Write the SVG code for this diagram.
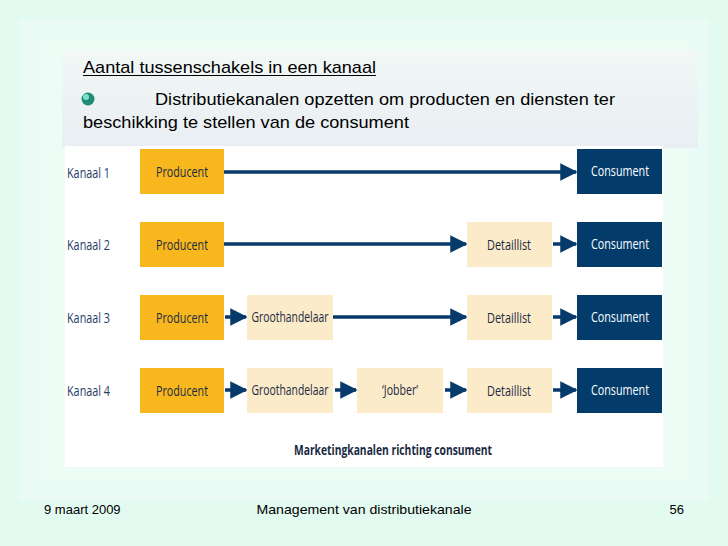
<svg xmlns="http://www.w3.org/2000/svg" width="728" height="546" viewBox="0 0 728 546">
<defs>
<style>
.lbl{font-family:"Open Sans","Liberation Sans",sans-serif;font-size:15px;fill:#1a2a44;text-anchor:middle;}
.k{font-family:"Open Sans","Liberation Sans",sans-serif;font-size:15px;fill:#1f3b66;}
.p{fill:#f8b81d;}
.l{fill:#fcebc9;}
.c{fill:#033b6b;}
.cl{font-family:"Open Sans","Liberation Sans",sans-serif;font-size:15px;fill:#fff;text-anchor:middle;}
.ln{stroke:#063a6a;stroke-width:3.5;fill:none;}
.t{font-family:"Liberation Sans",Arial,sans-serif;font-size:17px;fill:#000;}
.f{font-family:"Liberation Sans",Arial,sans-serif;font-size:13px;fill:#000;}
</style>
<marker id="a" viewBox="0 0 10 10" refX="9" refY="5" markerWidth="5" markerHeight="6" markerUnits="strokeWidth" orient="auto"><path d="M0,0L10,5L0,10z" fill="#063a6a"/></marker>
<linearGradient id="g" x1="0" y1="0" x2="0" y2="1"><stop offset="0" stop-color="#f2f8f6"/><stop offset="1" stop-color="#e8eef2"/></linearGradient>
</defs>
<rect width="728" height="546" fill="#e3faf1"/>
<rect x="20" y="20" width="688" height="480" fill="#e9fbf4"/>
<rect x="40" y="40" width="648" height="440" fill="#eefcf6"/>
<rect x="62" y="50" width="636" height="98" fill="url(#g)"/>
<text class="t" x="83" y="73" textLength="293" lengthAdjust="spacingAndGlyphs">Aantal tussenschakels in een kanaal</text>
<line x1="83" y1="75.5" x2="376" y2="75.5" stroke="#000" stroke-width="1"/>
<circle cx="88" cy="99" r="6.5" fill="#1f8c78"/>
<circle cx="86" cy="97" r="3" fill="#7fe0c8"/>
<text class="t" x="155" y="105" textLength="460" lengthAdjust="spacingAndGlyphs">Distributiekanalen opzetten om producten en diensten ter</text>
<text class="t" x="83" y="128" textLength="326" lengthAdjust="spacingAndGlyphs">beschikking te stellen van de consument</text>
<rect x="65" y="146" width="598" height="321" fill="#fff"/>
<g id="connectors">
<line class="ln" x1="223" y1="172" x2="576" y2="172" marker-end="url(#a)"/>
<line class="ln" x1="223" y1="244" x2="466" y2="244" marker-end="url(#a)"/>
<line class="ln" x1="553" y1="244" x2="576" y2="244" marker-end="url(#a)"/>
<line class="ln" x1="225" y1="317" x2="246" y2="317" marker-end="url(#a)"/>
<line class="ln" x1="333" y1="317" x2="466" y2="317" marker-end="url(#a)"/>
<line class="ln" x1="553" y1="317" x2="576" y2="317" marker-end="url(#a)"/>
<line class="ln" x1="225" y1="390" x2="246" y2="390" marker-end="url(#a)"/>
<line class="ln" x1="335" y1="390" x2="356" y2="390" marker-end="url(#a)"/>
<line class="ln" x1="445" y1="390" x2="466" y2="390" marker-end="url(#a)"/>
<line class="ln" x1="553" y1="390" x2="576" y2="390" marker-end="url(#a)"/>
</g>
<g id="labels">
<text class="k" x="67" y="178" textLength="43" lengthAdjust="spacingAndGlyphs">Kanaal 1</text>
<text class="k" x="67" y="250" textLength="43" lengthAdjust="spacingAndGlyphs">Kanaal 2</text>
<text class="k" x="67" y="323" textLength="43" lengthAdjust="spacingAndGlyphs">Kanaal 3</text>
<text class="k" x="67" y="396" textLength="43" lengthAdjust="spacingAndGlyphs">Kanaal 4</text>
</g>
<g id="row1">
<rect class="p" x="140" y="149" width="84" height="45"/><text class="lbl" x="182" y="177" textLength="52" lengthAdjust="spacingAndGlyphs">Producent</text>
<rect class="c" x="577" y="149" width="85" height="45"/><text class="cl" x="620" y="176" textLength="58" lengthAdjust="spacingAndGlyphs">Consument</text>
</g>
<g id="row2">
<rect class="p" x="140" y="222" width="84" height="45"/><text class="lbl" x="182" y="250" textLength="52" lengthAdjust="spacingAndGlyphs">Producent</text>
<rect class="l" x="467" y="222" width="85" height="45"/><text class="lbl" x="509" y="250" textLength="44" lengthAdjust="spacingAndGlyphs">Detaillist</text>
<rect class="c" x="577" y="222" width="85" height="45"/><text class="cl" x="620" y="249" textLength="58" lengthAdjust="spacingAndGlyphs">Consument</text>
</g>
<g id="row3">
<rect class="p" x="140" y="295" width="84" height="45"/><text class="lbl" x="182" y="323" textLength="52" lengthAdjust="spacingAndGlyphs">Producent</text>
<rect class="l" x="247" y="295" width="86" height="45"/><text class="lbl" x="290" y="322" textLength="77" lengthAdjust="spacingAndGlyphs">Groothandelaar</text>
<rect class="l" x="467" y="295" width="85" height="45"/><text class="lbl" x="509" y="323" textLength="44" lengthAdjust="spacingAndGlyphs">Detaillist</text>
<rect class="c" x="577" y="295" width="85" height="45"/><text class="cl" x="620" y="322" textLength="58" lengthAdjust="spacingAndGlyphs">Consument</text>
</g>
<g id="row4">
<rect class="p" x="140" y="368" width="84" height="45"/><text class="lbl" x="182" y="396" textLength="52" lengthAdjust="spacingAndGlyphs">Producent</text>
<rect class="l" x="247" y="368" width="86" height="45"/><text class="lbl" x="290" y="395" textLength="77" lengthAdjust="spacingAndGlyphs">Groothandelaar</text>
<rect class="l" x="357" y="368" width="86" height="45"/><text class="lbl" x="400" y="395" textLength="36" lengthAdjust="spacingAndGlyphs">‘Jobber’</text>
<rect class="l" x="467" y="368" width="85" height="45"/><text class="lbl" x="509" y="396" textLength="44" lengthAdjust="spacingAndGlyphs">Detaillist</text>
<rect class="c" x="577" y="368" width="85" height="45"/><text class="cl" x="620" y="395" textLength="58" lengthAdjust="spacingAndGlyphs">Consument</text>
</g>
<text class="lbl" x="393" y="455" style="font-weight:bold;font-size:14px" textLength="198" lengthAdjust="spacingAndGlyphs">Marketingkanalen richting consument</text>
<text class="f" x="44" y="514">9 maart 2009</text>
<text class="f" x="364" y="514" text-anchor="middle" textLength="215" lengthAdjust="spacingAndGlyphs">Management van distributiekanale</text>
<text class="f" x="684" y="514" text-anchor="end">56</text>
</svg>
